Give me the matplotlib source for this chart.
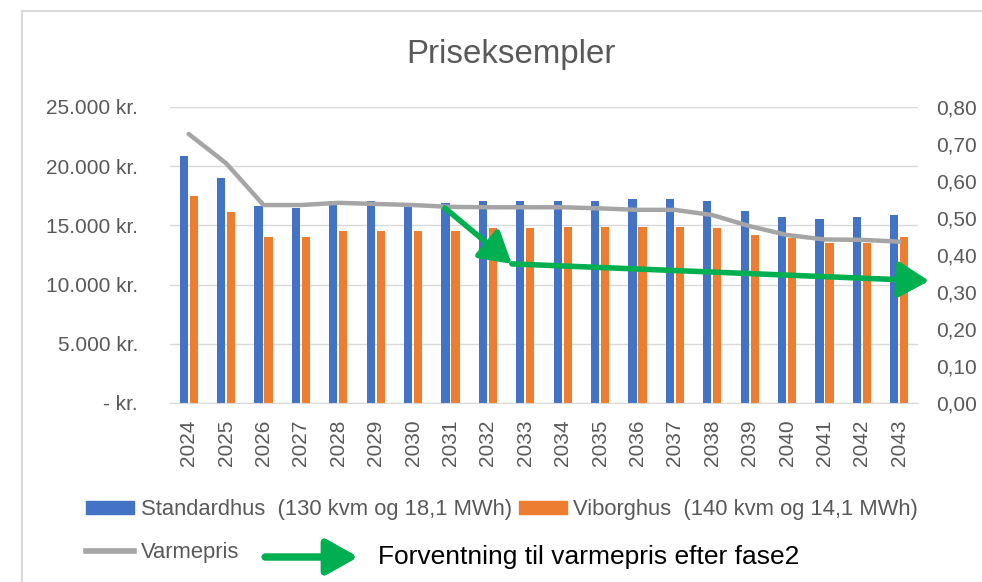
import matplotlib
matplotlib.use("Agg")
import matplotlib.pyplot as plt
import numpy as np
from matplotlib.patches import Rectangle
from matplotlib.lines import Line2D
from matplotlib.ticker import FuncFormatter

plt.rcParams['font.family'] = ['Liberation Sans', 'DejaVu Sans']

# data
years = [str(y) for y in range(2024, 2044)]
standardhus = [20900, 19000, 16600, 16500, 17100, 17100, 16550, 16900, 17100, 17100,
               17100, 17100, 17250, 17250, 17100, 16250, 15750, 15550, 15750, 15900]
viborghus = [17450, 16100, 14050, 14050, 14550, 14550, 14550, 14550, 14750, 14750,
             14900, 14900, 14900, 14900, 14750, 14200, 13900, 13550, 13550, 14050]
varmepris = [0.727, 0.648, 0.535, 0.535, 0.541, 0.538, 0.535, 0.530, 0.529, 0.529,
             0.529, 0.526, 0.522, 0.522, 0.508, 0.478, 0.454, 0.442, 0.441, 0.436]

# expected price after phase 2 (green arrows), in (category index, price)
forventning_x = [6.85, 8.64, 19.8]
forventning_y = [0.527, 0.376, 0.330]

label_std = "Standardhus  (130 kvm og 18,1 MWh)"
label_vib = "Viborghus  (140 kvm og 14,1 MWh)"
label_pris = "Varmepris"
note_text = "Forventning til varmepris efter fase2"

BLUE = '#4472C4'
ORANGE = '#ED7D31'
GREY = '#A5A5A5'
GREEN = '#00B050'
TXT = '#595959'

fig = plt.figure(figsize=(9.82, 5.82), dpi=100)
ax = fig.add_axes([170 / 982, 179 / 582, 748 / 982, 296 / 582])
ax2 = ax.twinx()

x = np.arange(len(years))
bw = 0.22
ax.bar(x - 0.135, standardhus, bw, color=BLUE, zorder=2)
ax.bar(x + 0.135, viborghus, bw, color=ORANGE, zorder=2)
ax2.plot(x, varmepris, color=GREY, lw=3.2, solid_capstyle='round', zorder=3)

ax.set_xlim(-0.5, len(years) - 0.5)
ax.set_ylim(0, 25000)
ax2.set_ylim(0, 0.8)
ax.set_yticks(np.arange(0, 25001, 5000))
ax2.set_yticks(np.arange(0, 0.81, 0.1))

def kr(v, pos):
    if v == 0:
        return "- kr."
    return f"{int(v):,}".replace(",", ".") + " kr."

ax.yaxis.set_major_formatter(FuncFormatter(kr))
ax2.yaxis.set_major_formatter(FuncFormatter(lambda v, p: f"{v:.2f}".replace(".", ",")))

ax.set_xticks(x)
ax.set_xticklabels(years, rotation=90)
ax.grid(axis='y', color='#D9D9D9', lw=1, zorder=0)
ax.set_axisbelow(True)
for a in (ax, ax2):
    for s in a.spines.values():
        s.set_visible(False)
    a.tick_params(length=0, colors=TXT, labelsize=15)
ax.spines['bottom'].set_visible(True)
ax.spines['bottom'].set_color('#D9D9D9')
ax.tick_params(axis='y', pad=23)
ax.tick_params(axis='x', pad=12)
ax2.tick_params(axis='y', pad=13)

# green arrows
arrow_kw = dict(arrowstyle='-|>,head_width=0.5,head_length=0.85', color=GREEN,
                lw=4, mutation_scale=22, shrinkA=0, shrinkB=0)
for i in range(len(forventning_x) - 1):
    ax2.annotate("", xy=(forventning_x[i + 1], forventning_y[i + 1]),
                 xytext=(forventning_x[i], forventning_y[i]),
                 arrowprops=arrow_kw, annotation_clip=False, zorder=5)

fig.text(511 / 982, 527 / 582, "Priseksempler", ha='center', va='center',
         fontsize=23.8, color=TXT)

# legend
handles = [Rectangle((0, 0), 1, 1, color=BLUE),
           Line2D([], [], color=GREY, lw=4),
           Rectangle((0, 0), 1, 1, color=ORANGE)]
fig.legend(handles, [label_std, label_pris, label_vib], ncol=2, frameon=False,
           loc='upper left', bbox_to_anchor=(86 / 982, 0.142), borderaxespad=0,
           borderpad=0, fontsize=15.8, labelcolor=TXT, handlelength=2.2,
           handleheight=0.55, handletextpad=0.3, columnspacing=0.3,
           labelspacing=1.0)

fig.add_artist(plt.annotate("", xy=(358 / 982, 25 / 582), xytext=(265 / 982, 25 / 582),
                            xycoords='figure fraction', textcoords='figure fraction',
                            arrowprops=dict(arrowstyle='-|>,head_width=0.45,head_length=0.8',
                                            color=GREEN, lw=5, mutation_scale=24,
                                            shrinkA=0, shrinkB=0)))
fig.text(378 / 982, 25 / 582, note_text, ha='left', va='center', fontsize=19, color='black')

# chart border
fig.add_artist(Rectangle((22 / 982, -0.1), 1.1, 1.1 - 11 / 582, transform=fig.transFigure,
                         fill=False, edgecolor='#D9D9D9', lw=1.5))

fig.savefig("out.png", dpi=100)
